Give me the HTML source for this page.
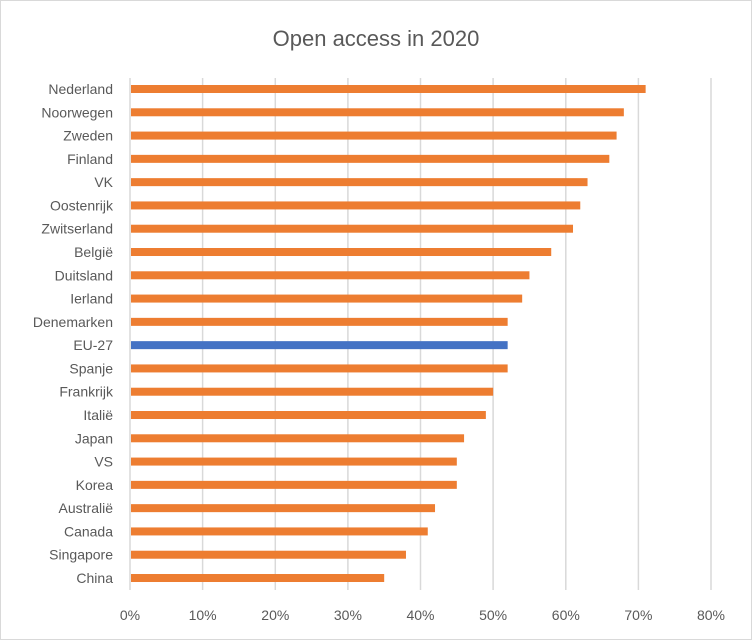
<!DOCTYPE html>
<html><head><meta charset="utf-8"><style>
html,body{margin:0;padding:0;background:#fff}
svg{display:block}
text{font-family:"Liberation Sans",sans-serif;fill:#595959}
</style></head><body>
<svg width="752" height="640" viewBox="0 0 752 640" xmlns="http://www.w3.org/2000/svg">
<rect x="0.5" y="0.5" width="751" height="639" fill="#fff" stroke="#d9d9d9"/>
<text x="376" y="46" font-size="22" text-anchor="middle">Open access in 2020</text>
<g stroke="#d9d9d9" stroke-width="1.5">
<line x1="130" y1="78" x2="130" y2="590"/>
<line x1="202.6" y1="78" x2="202.6" y2="590"/>
<line x1="275.3" y1="78" x2="275.3" y2="590"/>
<line x1="347.9" y1="78" x2="347.9" y2="590"/>
<line x1="420.5" y1="78" x2="420.5" y2="590"/>
<line x1="493.1" y1="78" x2="493.1" y2="590"/>
<line x1="565.8" y1="78" x2="565.8" y2="590"/>
<line x1="638.4" y1="78" x2="638.4" y2="590"/>
<line x1="711" y1="78" x2="711" y2="590"/>
</g>
<g font-size="14" text-anchor="middle">
<text x="130" y="620">0%</text><text x="202.6" y="620">10%</text><text x="275.3" y="620">20%</text><text x="347.9" y="620">30%</text><text x="420.5" y="620">40%</text><text x="493.1" y="620">50%</text><text x="565.8" y="620">60%</text><text x="638.4" y="620">70%</text><text x="711" y="620">80%</text>
</g>
<g id="bars"></g>
<g id="labels" font-size="14" text-anchor="end"></g>
<script>
var d=[["Nederland",71],["Noorwegen",68],["Zweden",67],["Finland",66],["VK",63],["Oostenrijk",62],["Zwitserland",61],["België",58],["Duitsland",55],["Ierland",54],["Denemarken",52],["EU-27",52],["Spanje",52],["Frankrijk",50],["Italië",49],["Japan",46],["VS",45],["Korea",45],["Australië",42],["Canada",41],["Singapore",38],["China",35]];
var ns="http://www.w3.org/2000/svg",b=document.getElementById("bars"),l=document.getElementById("labels");
d.forEach(function(r,i){var y=89+i*23.286;
var re=document.createElementNS(ns,"rect");re.setAttribute("x",131);re.setAttribute("y",y-4);re.setAttribute("height",8);re.setAttribute("width",r[1]*7.2625-1);re.setAttribute("fill",r[0]=="EU-27"?"#4472c4":"#ed7d31");b.appendChild(re);
var t=document.createElementNS(ns,"text");t.setAttribute("x",113);t.setAttribute("y",y+5);t.textContent=r[0];l.appendChild(t);});
</script>
</svg>
</body></html>
